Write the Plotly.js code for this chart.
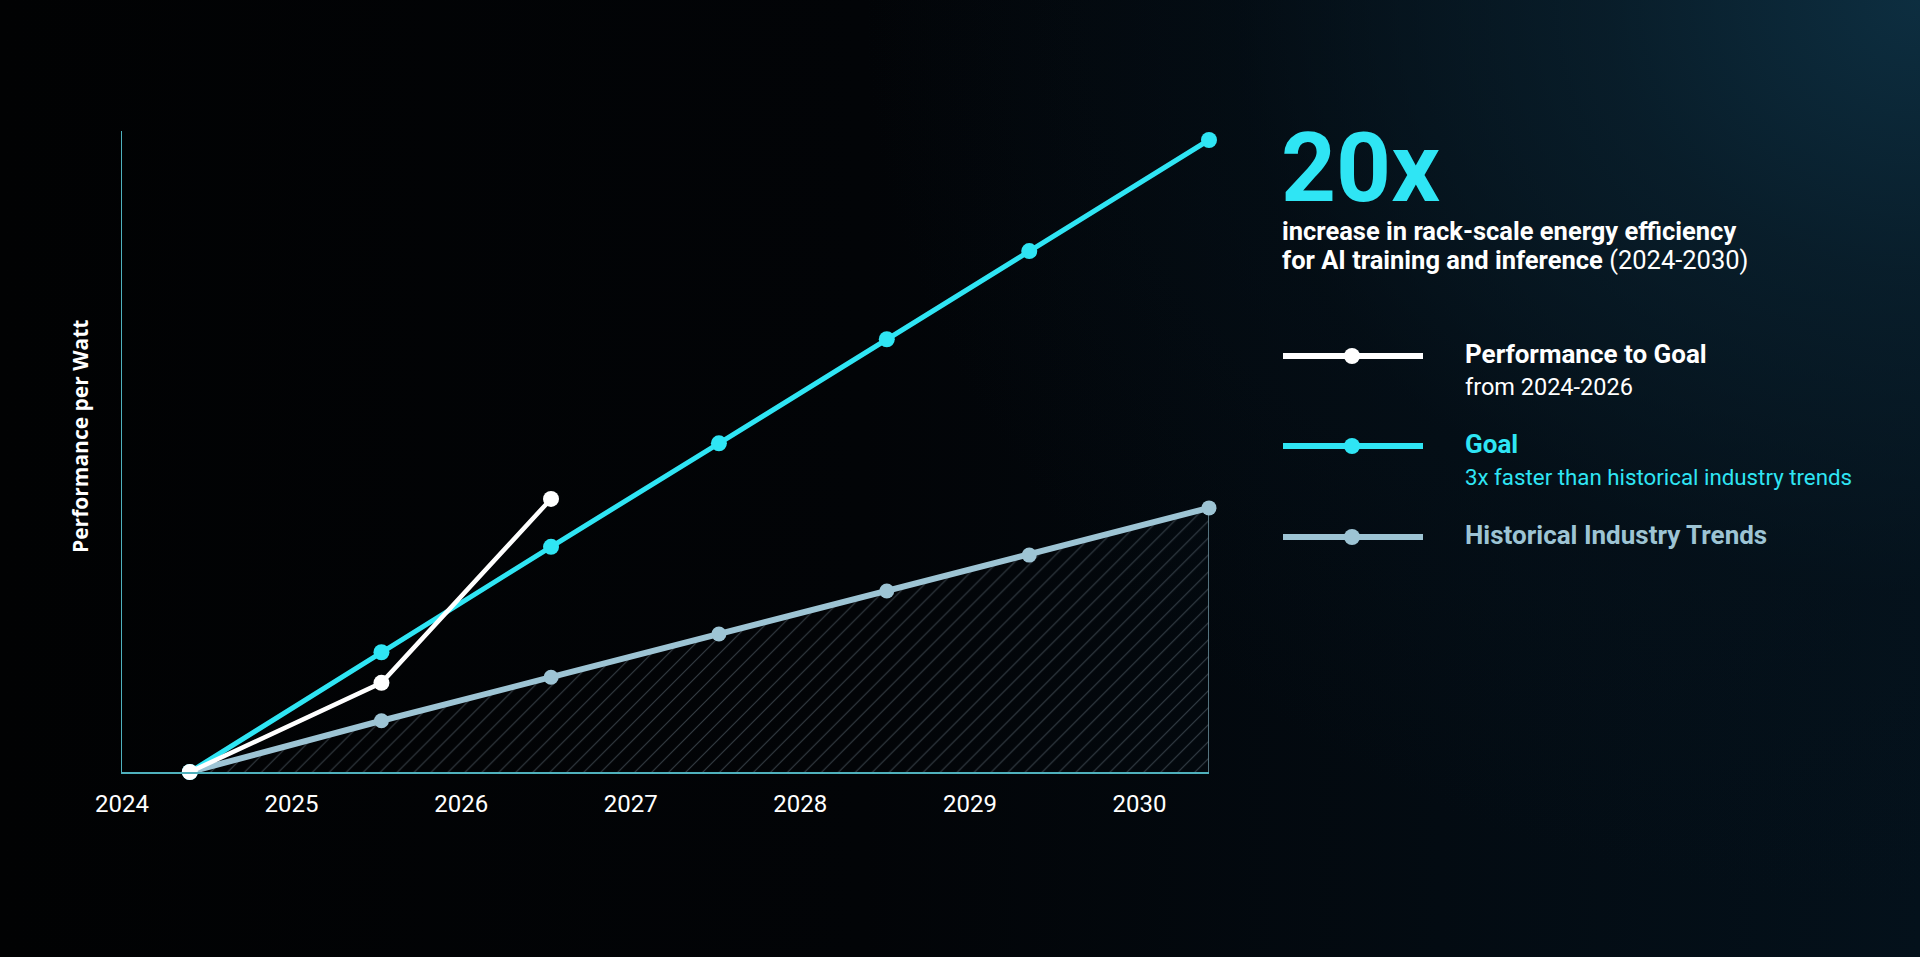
<!DOCTYPE html>
<html>
<head>
<meta charset="utf-8">
<script src="https://cdn.plot.ly/plotly-3.0.1.min.js"></script>
<style>
html,body{margin:0;padding:0;width:1920px;height:957px;overflow:hidden;
background:
 radial-gradient(ellipse 55% 95% at 100% 0%, rgba(13,46,64,1) 0%, rgba(10,34,48,0.75) 30%, rgba(6,20,30,0.35) 65%, rgba(3,8,12,0) 100%),
 linear-gradient(90deg, #010203 0%, #020407 45%, #030b12 75%, #04111b 100%);}
#chart{width:1920px;height:957px;}
</style>
</head>
<body>
<div id="chart"></div>
<script>
// ---- data ----
const tickYears = [2024, 2025, 2026, 2027, 2028, 2029, 2030];
const tickLabels = ['2024', '2025', '2026', '2027', '2028', '2029', '2030'];
const xPerf = [2024.40, 2025.53, 2026.53];
const perfToGoal = [1, 3.68, 9.21];
const xGoal = [2024.40, 2025.53, 2026.53, 2027.52, 2028.51, 2029.35, 2030.41];
const goal = [1, 4.60, 7.77, 10.88, 14.01, 16.66, 20];
const xHist = [2024.40, 2025.53, 2026.53, 2027.52, 2028.51, 2029.35, 2030.41];
const historical = [1, 2.54, 3.85, 5.15, 6.44, 7.52, 8.94];
const seriesNames = ['Performance to Goal', 'Goal', 'Historical Industry Trends'];
const seriesNotes = ['from 2024-2026', '3x faster than historical industry trends', ''];

// ---- styling ----
const CYAN = '#2fe5f4';
const WHITE = '#ffffff';
const HIST = '#9dc4d4';
const AXIS = '#4fb1bd';
const FONT = 'Roboto, "Noto Sans", sans-serif';

// layout geometry (pixels in the 1920x957 page)
const L = 122, R = 1209, T = 131, B = 772;
const W = 1920, H = 957;
const px = x => (x - L) / (R - L);
const py = y => (B - y) / (B - T);

const yMin = 1;
const yMax = 1 + (B - T) / ((B - 140) / (goal[goal.length - 1] - 1));
const xMin = tickYears[0];
const xMax = xHist[xHist.length - 1];

const traces = [
  {
    x: xHist, y: historical, type: 'scatter', mode: 'lines+markers',
    name: seriesNames[2],
    line: {color: HIST, width: 6},
    marker: {color: HIST, size: 15},
    fill: 'tozeroy',
    fillcolor: 'rgba(0,0,0,0)',
    fillpattern: {shape: '/', size: 12, solidity: 0.09, fgcolor: 'rgba(105,120,130,0.5)', bgcolor: 'rgba(0,0,0,0)'},
    cliponaxis: false, hoverinfo: 'skip'
  },
  {
    x: xGoal, y: goal, type: 'scatter', mode: 'lines+markers',
    name: seriesNames[1],
    line: {color: CYAN, width: 5},
    marker: {color: CYAN, size: 16},
    cliponaxis: false, hoverinfo: 'skip'
  },
  {
    x: xPerf, y: perfToGoal, type: 'scatter', mode: 'lines+markers',
    name: seriesNames[0],
    line: {color: WHITE, width: 4.5},
    marker: {color: WHITE, size: 16},
    cliponaxis: false, hoverinfo: 'skip'
  }
];

const annotations = [
  {text: 'Performance per Watt', textangle: -90, xref: 'paper', yref: 'paper',
   x: px(80), y: py(437), xanchor: 'center', yanchor: 'middle', showarrow: false,
   font: {family: '"Open Sans", sans-serif', size: 21, color: WHITE, weight: 700}},
  {text: '20x', xref: 'paper', yref: 'paper', x: px(1279), y: py(168), xanchor: 'left', yanchor: 'middle',
   showarrow: false, font: {family: FONT, size: 96, color: CYAN, weight: 700}},
  {text: 'increase in rack-scale energy efficiency', xref: 'paper', yref: 'paper', x: px(1280), y: py(231),
   xanchor: 'left', yanchor: 'middle', showarrow: false, font: {family: FONT, size: 25.5, color: WHITE, weight: 700}},
  {text: '<b>for AI training and inference</b> (2024-2030)', xref: 'paper', yref: 'paper', x: px(1280), y: py(260),
   xanchor: 'left', yanchor: 'middle', showarrow: false, font: {family: FONT, size: 25.5, color: WHITE, weight: 400}},
  {text: seriesNames[0], xref: 'paper', yref: 'paper', x: px(1463), y: py(354), xanchor: 'left', yanchor: 'middle',
   showarrow: false, font: {family: FONT, size: 26, color: WHITE, weight: 700}},
  {text: seriesNotes[0], xref: 'paper', yref: 'paper', x: px(1463), y: py(387), xanchor: 'left', yanchor: 'middle',
   showarrow: false, font: {family: FONT, size: 23.5, color: WHITE, weight: 400}},
  {text: seriesNames[1], xref: 'paper', yref: 'paper', x: px(1463), y: py(444), xanchor: 'left', yanchor: 'middle',
   showarrow: false, font: {family: FONT, size: 26, color: CYAN, weight: 700}},
  {text: seriesNotes[1], xref: 'paper', yref: 'paper', x: px(1463), y: py(477), xanchor: 'left', yanchor: 'middle',
   showarrow: false, font: {family: FONT, size: 22.3, color: CYAN, weight: 400}},
  {text: seriesNames[2], xref: 'paper', yref: 'paper', x: px(1463), y: py(535), xanchor: 'left', yanchor: 'middle',
   showarrow: false, font: {family: FONT, size: 26, color: HIST, weight: 700}}
];

const legendRows = [
  {y: 356, color: WHITE},
  {y: 446, color: CYAN},
  {y: 537, color: HIST}
];
const shapes = [
  // right edge of the historical area
  {type: 'line', xref: 'x', yref: 'y', x0: xMax, x1: xMax, y0: yMin, y1: historical[historical.length - 1],
   line: {color: 'rgba(140,185,200,0.8)', width: 1.5}, layer: 'below'}
];
legendRows.forEach(r => {
  shapes.push({type: 'line', xref: 'paper', yref: 'paper', x0: px(1283), x1: px(1423), y0: py(r.y), y1: py(r.y),
    line: {color: r.color, width: 6}});
  shapes.push({type: 'circle', xref: 'paper', yref: 'paper', xsizemode: 'pixel', ysizemode: 'pixel',
    xanchor: px(1352), yanchor: py(r.y), x0: -8, x1: 8, y0: -8, y1: 8,
    fillcolor: r.color, line: {width: 0}});
});

const layout = {
  width: W, height: H,
  paper_bgcolor: 'rgba(0,0,0,0)', plot_bgcolor: 'rgba(0,0,0,0)',
  margin: {l: L, r: W - R, t: T, b: H - B, autoexpand: false},
  showlegend: false,
  xaxis: {
    range: [xMin, xMax], tickvals: tickYears, ticktext: tickLabels,
    showgrid: false, zeroline: false, showline: true, linecolor: AXIS, linewidth: 1.5,
    ticks: '', ticklabelstandoff: 10,
    tickfont: {family: FONT, size: 24, color: WHITE}, fixedrange: true
  },
  yaxis: {
    range: [yMin, yMax], showgrid: false, zeroline: false, showline: true, linecolor: AXIS, linewidth: 1.5,
    showticklabels: false, ticks: '', fixedrange: true
  },
  annotations: annotations,
  shapes: shapes
};

Plotly.newPlot('chart', traces, layout, {displayModeBar: false, staticPlot: true});
</script>
</body>
</html>
